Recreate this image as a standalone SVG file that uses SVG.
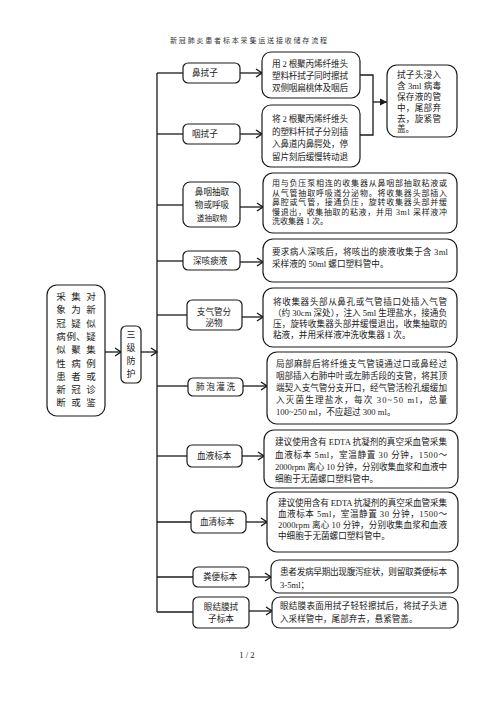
<svg xmlns="http://www.w3.org/2000/svg" width="496" height="702" viewBox="0 0 496 702">
<style>
text{font-family:"Liberation Serif","Noto Sans CJK SC",serif;fill:#1a1a1a;font-size:8.6px}
.n{fill:#fff;stroke:#1a1a1a;stroke-width:1.2}
.c{fill:none;stroke:#1a1a1a;stroke-width:1.3}
.m{text-anchor:middle}
.t{font-size:7px;fill:#333}
.l{font-size:9.5px;text-anchor:middle}
.s{font-size:8px}
</style>
<defs>
<marker id="a" markerUnits="userSpaceOnUse" markerWidth="10" markerHeight="10" refX="7" refY="5" orient="auto" viewBox="0 0 10 10"><path d="M1,1 L7,5 L1,9" fill="none" stroke="#1a1a1a" stroke-width="1.4"/></marker>
<marker id="f" markerUnits="userSpaceOnUse" markerWidth="8" markerHeight="8" refX="7" refY="4" orient="auto" viewBox="0 0 8 8"><path d="M0,0.5 L7,4 L0,7.5 Z" fill="#1a1a1a"/></marker>
</defs>
<rect width="496" height="702" fill="#fff"/>
<text class="t" x="170" y="43" textLength="157" lengthAdjust="spacing">新冠肺炎患者标本采集运送接收储存流程</text>

<g id="connectors">
<line class="c" x1="105" y1="352" x2="121" y2="352" marker-end="url(#a)"/>
<line class="c" x1="141" y1="352" x2="157" y2="352" marker-end="url(#a)"/>
<line class="c" x1="157" y1="73" x2="157" y2="612"/>
<line class="c" x1="157" y1="73" x2="183" y2="73"/>
<line class="c" x1="157" y1="134" x2="183" y2="134"/>
<line class="c" x1="157" y1="205" x2="183" y2="205"/>
<line class="c" x1="157" y1="261" x2="183" y2="261"/>
<line class="c" x1="157" y1="315" x2="187" y2="315"/>
<line class="c" x1="157" y1="386" x2="188" y2="386"/>
<line class="c" x1="157" y1="456" x2="187" y2="456"/>
<line class="c" x1="157" y1="522" x2="191" y2="522"/>
<line class="c" x1="157" y1="577" x2="193" y2="577"/>
<line class="c" x1="157" y1="612" x2="193" y2="612"/>
<line class="c" x1="240" y1="73" x2="262" y2="73" marker-end="url(#a)"/>
<line class="c" x1="240" y1="134" x2="262" y2="134" marker-end="url(#a)"/>
<line class="c" x1="240" y1="207" x2="263" y2="207" marker-end="url(#a)"/>
<line class="c" x1="240" y1="262" x2="263" y2="262" marker-end="url(#a)"/>
<line class="c" x1="242" y1="317" x2="263" y2="317" marker-end="url(#a)"/>
<line class="c" x1="243" y1="386" x2="267" y2="386" marker-end="url(#a)"/>
<line class="c" x1="242" y1="456" x2="264" y2="456" marker-end="url(#a)"/>
<line class="c" x1="246" y1="522" x2="267" y2="522" marker-end="url(#a)"/>
<line class="c" x1="249" y1="577" x2="271" y2="577" marker-end="url(#a)"/>
<line class="c" x1="249" y1="611" x2="272" y2="611" marker-end="url(#a)"/>
<polyline class="c" points="360,75 373,75 373,135 360,135"/>
<line class="c" x1="373" y1="102" x2="387" y2="102" marker-end="url(#f)"/>
</g>

<g id="n-main">
<rect class="n" x="47" y="285" width="58" height="131" rx="10"/>
<text class="l" y="300"><tspan x="61">采</tspan><tspan x="76">集</tspan><tspan x="91">对</tspan></text>
<text class="l" y="313"><tspan x="61">象</tspan><tspan x="76">为</tspan><tspan x="91">新</tspan></text>
<text class="l" y="326.5"><tspan x="61">冠</tspan><tspan x="76">疑</tspan><tspan x="91">似</tspan></text>
<text class="l" y="340"><tspan x="61">病</tspan><tspan x="76">例、</tspan><tspan x="91">疑</tspan></text>
<text class="l" y="353"><tspan x="61">似</tspan><tspan x="76">聚</tspan><tspan x="91">集</tspan></text>
<text class="l" y="366.5"><tspan x="61">性</tspan><tspan x="76">病</tspan><tspan x="91">例</tspan></text>
<text class="l" y="380"><tspan x="61">患</tspan><tspan x="76">者</tspan><tspan x="91">或</tspan></text>
<text class="l" y="393"><tspan x="61">新</tspan><tspan x="76">冠</tspan><tspan x="91">诊</tspan></text>
<text class="l" y="406"><tspan x="61">断</tspan><tspan x="76">或</tspan><tspan x="91">鉴</tspan></text>
</g>

<g id="n-sanji">
<rect class="n" x="121" y="326" width="20" height="57" rx="5"/>
<text class="m" x="131" y="338" style="font-size:9px">三</text>
<text class="m" x="131" y="351" style="font-size:9px">级</text>
<text class="m" x="131" y="364" style="font-size:9px">防</text>
<text class="m" x="131" y="377" style="font-size:9px">护</text>
</g>

<g id="n-bi">
<rect class="n" x="183" y="63" width="57" height="20" rx="5"/>
<text x="192" y="76">鼻拭子</text>
</g>
<g id="n-yan">
<rect class="n" x="183" y="124" width="57" height="20" rx="5"/>
<text x="192" y="137">咽拭子</text>
</g>
<g id="n-bychouqu">
<rect class="n" x="183" y="182" width="57" height="45" rx="7"/>
<text class="m" x="212" y="195">鼻咽抽取</text>
<text class="m" x="212" y="208">物或呼吸</text>
<text class="m" x="212" y="221" style="font-size:7.6px">道抽取物</text>
</g>
<g id="n-tan">
<rect class="n" x="183" y="251" width="57" height="19" rx="5"/>
<text x="193" y="264">深咳痰液</text>
</g>
<g id="n-zhiqiguan">
<rect class="n" x="187" y="300" width="55" height="30" rx="5"/>
<text class="m" x="214" y="315">支气管分</text>
<text class="m" x="214" y="326">泌物</text>
</g>
<g id="n-feipao">
<rect class="n" x="188" y="378" width="55" height="18" rx="5"/>
<text x="196" y="390" textLength="39" lengthAdjust="spacing">肺泡灌洗</text>
</g>
<g id="n-xueye">
<rect class="n" x="187" y="445" width="55" height="22" rx="5"/>
<text x="197" y="459">血液标本</text>
</g>
<g id="n-xueqing">
<rect class="n" x="191" y="511" width="55" height="22" rx="5"/>
<text x="200" y="525">血清标本</text>
</g>
<g id="n-fenbian">
<rect class="n" x="193" y="567" width="56" height="20" rx="5"/>
<text x="203" y="580">粪便标本</text>
</g>
<g id="n-yanjiemo">
<rect class="n" x="193" y="597" width="56" height="31" rx="5"/>
<text class="m" x="221" y="610">眼结膜拭</text>
<text class="m" x="221" y="622">子标本</text>
</g>

<g id="r-bi">
<rect class="n" x="262" y="52" width="98" height="46" rx="9"/>
<text x="272" y="67" textLength="76" lengthAdjust="spacing">用 2 根聚丙烯纤维头</text>
<text x="272" y="79" textLength="76" lengthAdjust="spacing">塑料杆拭子同时擦拭</text>
<text x="272" y="91" textLength="76" lengthAdjust="spacing">双侧咽扁桃体及咽后</text>
</g>
<g id="r-yan">
<rect class="n" x="262" y="105" width="98" height="62" rx="9"/>
<text x="272" y="122" textLength="76" lengthAdjust="spacing">将 2 根聚丙烯纤维头</text>
<text x="272" y="134.5" textLength="76" lengthAdjust="spacing">的塑料杆拭子分别插</text>
<text x="272" y="147" textLength="76" lengthAdjust="spacing">入鼻道内鼻腭处，停</text>
<text x="272" y="159.5" textLength="76" lengthAdjust="spacing">留片刻后缓慢转动退</text>
</g>
<g id="r-baocun">
<rect class="n" x="387" y="65" width="70" height="72" rx="10"/>
<text x="397" y="78" textLength="44" lengthAdjust="spacing">拭子头浸入</text>
<text x="397" y="89" textLength="44" lengthAdjust="spacing">含 3ml 病毒</text>
<text x="397" y="100" textLength="44" lengthAdjust="spacing">保存液的管</text>
<text x="397" y="111" textLength="44" lengthAdjust="spacing">中，尾部弃</text>
<text x="397" y="122" textLength="44" lengthAdjust="spacing">去，旋紧管</text>
<text x="397" y="132">盖。</text>
</g>
<g id="r-bychouqu">
<rect class="n" x="263" y="173" width="194" height="60" rx="10"/>
<text class="s" x="272" y="186" textLength="175" lengthAdjust="spacing">用与负压泵相连的收集器从鼻咽部抽取粘液或</text>
<text class="s" x="272" y="195.5" textLength="175" lengthAdjust="spacing">从气管抽取呼吸道分泌物。将收集器头部插入</text>
<text class="s" x="272" y="205" textLength="175" lengthAdjust="spacing">鼻腔或气管，接通负压，旋转收集器头部并缓</text>
<text class="s" x="272" y="214.5" textLength="175" lengthAdjust="spacing">慢退出，收集抽取的粘液，并用 3ml 采样液冲</text>
<text class="s" x="272" y="224">洗收集器 1 次。</text>
</g>
<g id="r-tan">
<rect class="n" x="263" y="239" width="194" height="43" rx="10"/>
<text x="272" y="255" textLength="176" lengthAdjust="spacing">要求病人深咳后，将咳出的痰液收集于含 3ml</text>
<text x="272" y="267">采样液的 50ml 螺口塑料管中。</text>
</g>
<g id="r-zhiqiguan">
<rect class="n" x="263" y="288" width="194" height="59" rx="10"/>
<text x="273" y="304.5" textLength="174" lengthAdjust="spacing">将收集器头部从鼻孔或气管插口处插入气管</text>
<text x="273" y="315.5" textLength="174" lengthAdjust="spacing">（约 30cm 深处），注入 5ml 生理盐水，接通负</text>
<text x="273" y="326.5" textLength="174" lengthAdjust="spacing">压，旋转收集器头部并缓慢退出，收集抽取的</text>
<text x="273" y="337.5">粘液，并用采样液冲洗收集器 1 次。</text>
</g>
<g id="r-feipao">
<rect class="n" x="267" y="352" width="190" height="72" rx="10"/>
<text x="276" y="367" textLength="171" lengthAdjust="spacing">局部麻醉后将纤维支气管镜通过口或鼻经过</text>
<text x="276" y="379" textLength="171" lengthAdjust="spacing">咽部插入右肺中叶或左肺舌段的支管，将其顶</text>
<text x="276" y="390.5" textLength="171" lengthAdjust="spacing">端契入支气管分支开口，经气管活检孔缓缓加</text>
<text x="276" y="402.5" textLength="171" lengthAdjust="spacing">入灭菌生理盐水，每次 30~50 ml，总量</text>
<text x="276" y="414.5">100~250 ml，不应超过 300 ml。</text>
</g>
<g id="r-xueye">
<rect class="n" x="264" y="430" width="194" height="58" rx="10"/>
<text x="275" y="445" textLength="172" lengthAdjust="spacing">建议使用含有 EDTA 抗凝剂的真空采血管采集</text>
<text x="275" y="458" textLength="172" lengthAdjust="spacing">血液标本 5ml，室温静置 30 分钟，1500～</text>
<text x="275" y="470" textLength="172" lengthAdjust="spacing">2000rpm 离心 10 分钟，分别收集血浆和血液中</text>
<text x="275" y="481.5">细胞于无菌螺口塑料管中。</text>
</g>
<g id="r-xueqing">
<rect class="n" x="267" y="492" width="191" height="60" rx="10"/>
<text x="278" y="506" textLength="169" lengthAdjust="spacing">建议使用含有 EDTA 抗凝剂的真空采血管采集</text>
<text x="278" y="517" textLength="169" lengthAdjust="spacing">血液标本 5ml，室温静置 30 分钟，1500～</text>
<text x="278" y="528" textLength="169" lengthAdjust="spacing">2000rpm 离心 10 分钟，分别收集血浆和血液</text>
<text x="278" y="539">中细胞于无菌螺口塑料管中。</text>
</g>
<g id="r-fenbian">
<rect class="n" x="271" y="560" width="187" height="33" rx="8"/>
<text x="280" y="575" textLength="167" lengthAdjust="spacing">患者发病早期出现腹泻症状，则留取粪便标本</text>
<text x="280" y="588">3-5ml；</text>
</g>
<g id="r-yanjiemo">
<rect class="n" x="272" y="597" width="186" height="31" rx="8"/>
<text x="280" y="609" textLength="167" lengthAdjust="spacing">眼结膜表面用拭子轻轻擦拭后，将拭子头进</text>
<text x="280" y="622">入采样管中，尾部弃去，悬紧管盖。</text>
</g>

<text class="m" x="247" y="658" style="font-size:8.6px">1 / 2</text>
</svg>
